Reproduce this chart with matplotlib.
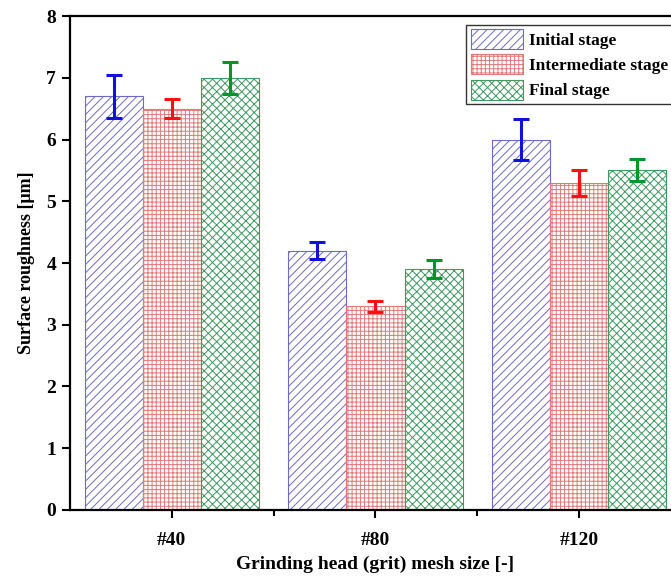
import numpy as np
import matplotlib.pyplot as plt

plt.rcParams['font.family'] = 'Liberation Serif'
plt.rcParams['font.weight'] = 'bold'
plt.rcParams['hatch.linewidth'] = 0.7

mesh = ['#40', '#80', '#120']
stages = ['Initial stage', 'Intermediate stage', 'Final stage']
initial = [6.7, 4.2, 6.0]
initial_err = [0.35, 0.14, 0.33]
intermediate = [6.5, 3.3, 5.3]
intermediate_err = [0.15, 0.09, 0.21]
final = [7.0, 3.9, 5.5]
final_err = [0.26, 0.15, 0.18]

hatch_col = ['#6a6ac8', '#e07a7a', '#3f9a5f']
err_col = ['#1010e0', '#ff1010', '#00962a']
hatches = ['////', '++++', 'xxxx']

fig = plt.figure(figsize=(6.71, 5.76), dpi=100)
ax = fig.add_axes([0.1043, 0.1146, 0.9106, 0.8576])

x = np.arange(len(mesh))
w = 0.285
series = [(initial, initial_err), (intermediate, intermediate_err), (final, final_err)]
for i, (vals, errs) in enumerate(series):
    pos = x + (i - 1) * w
    ax.bar(pos, vals, w, facecolor='white', edgecolor=hatch_col[i],
           hatch=hatches[i], linewidth=0.8, label=stages[i])
    ax.errorbar(pos, vals, yerr=errs, fmt='none', ecolor=err_col[i],
                elinewidth=2.2, capsize=6, capthick=2.2)

ax.set_xlim(-0.5, 2.5)
ax.set_ylim(0, 8)
ax.set_xticks(x)
ax.set_xticklabels(mesh)
ax.set_xticks([0.5, 1.5], minor=True)
ax.set_yticks(range(0, 9))
ax.tick_params(axis='both', which='major', direction='out', length=6, width=1.5,
               labelsize=14, pad=4)
ax.tick_params(axis='x', which='minor', direction='out', length=4, width=1.5)
ax.tick_params(axis='x', which='major', pad=10)
for s in ax.spines.values():
    s.set_linewidth(1.6)

ax.set_xlabel('Grinding head (grit) mesh size [-]', fontsize=14, fontweight='bold', labelpad=5)
ax.set_ylabel('Surface roughness [\u03bcm]', fontsize=13, fontweight='bold', labelpad=8)

leg = ax.legend(loc='upper right', bbox_to_anchor=(1.0, 1.0),
                prop={'weight': 'bold', 'size': 12.5}, frameon=True, fancybox=False,
                edgecolor='black', handlelength=3.0, handleheight=1.4,
                borderpad=0.25, labelspacing=0.3, handletextpad=0.35,
                borderaxespad=0.5)
leg.get_frame().set_linewidth(1.0)

fig.savefig('out.png', dpi=100)
